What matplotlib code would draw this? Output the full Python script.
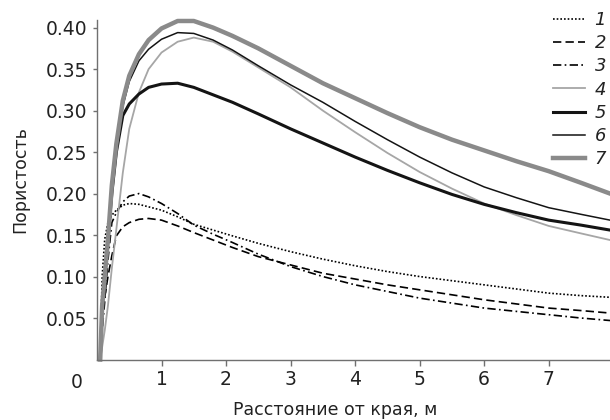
import matplotlib
matplotlib.use("Agg")
import matplotlib.pyplot as plt

plt.rcParams['font.family'] = ['DejaVu Sans']

# distance from edge, m
x = [0.05, 0.08, 0.12, 0.17, 0.23, 0.3, 0.4, 0.5, 0.65, 0.8, 1.0, 1.25, 1.5,
     1.8, 2.1, 2.5, 3.0, 3.5, 4.0, 4.5, 5.0, 5.5, 6.0, 6.5, 7.0, 7.5, 7.95]

por1 = [0.0, 0.10, 0.145, 0.165, 0.174, 0.180, 0.186, 0.188, 0.187, 0.184, 0.180, 0.172, 0.163,
        0.156, 0.149, 0.140, 0.130, 0.121, 0.113, 0.106, 0.100, 0.095, 0.090, 0.085, 0.080, 0.077, 0.075]
por2 = [0.0, 0.05, 0.075, 0.10, 0.125, 0.149, 0.160, 0.165, 0.169, 0.170, 0.168, 0.161, 0.153,
        0.144, 0.135, 0.124, 0.114, 0.104, 0.097, 0.090, 0.084, 0.078, 0.072, 0.067, 0.062, 0.059, 0.056]
por3 = [0.0, 0.035, 0.07, 0.12, 0.165, 0.177, 0.190, 0.197, 0.200, 0.196, 0.188, 0.176, 0.162,
        0.151, 0.141, 0.127, 0.112, 0.100, 0.090, 0.082, 0.074, 0.068, 0.062, 0.058, 0.054, 0.050, 0.047]
por4 = [0.0, 0.015, 0.035, 0.065, 0.11, 0.157, 0.225, 0.278, 0.322, 0.350, 0.370, 0.383, 0.388,
        0.383, 0.371, 0.352, 0.328, 0.300, 0.274, 0.249, 0.226, 0.206, 0.188, 0.174, 0.161, 0.152, 0.144]
por5 = [0.0, 0.06, 0.10, 0.145, 0.20, 0.25, 0.294, 0.308, 0.320, 0.328, 0.332, 0.333, 0.328,
        0.319, 0.310, 0.296, 0.278, 0.261, 0.244, 0.228, 0.213, 0.199, 0.187, 0.177, 0.168, 0.162, 0.156]
por6 = [0.0, 0.06, 0.10, 0.145, 0.205, 0.255, 0.305, 0.335, 0.360, 0.374, 0.386, 0.394, 0.393,
        0.385, 0.373, 0.354, 0.331, 0.310, 0.287, 0.265, 0.244, 0.225, 0.208, 0.195, 0.183, 0.175, 0.168]
por7 = [0.0, 0.065, 0.10, 0.145, 0.21, 0.26, 0.312, 0.342, 0.368, 0.385, 0.399, 0.408, 0.408,
        0.400, 0.390, 0.375, 0.354, 0.333, 0.315, 0.297, 0.280, 0.265, 0.252, 0.239, 0.227, 0.213, 0.200]

labels = ['1', '2', '3', '4', '5', '6', '7']

fig = plt.figure(figsize=(6.1, 4.2), dpi=100)
ax = fig.add_axes([0.159, 0.144, 0.841, 0.808])

ax.plot(x, por1, color='black', lw=1.2, ls=(0, (1, 1.2)), label=labels[0])
ax.plot(x, por2, color='black', lw=1.2, ls=(0, (5, 2.5)), label=labels[1])
ax.plot(x, por3, color='black', lw=1.2, ls=(0, (5, 2, 1, 2)), label=labels[2])
ax.plot(x, por4, color='#a6a6a6', lw=1.3, label=labels[3])
ax.plot(x, por5, color='#141414', lw=2.2, label=labels[4])
ax.plot(x, por6, color='#141414', lw=1.1, label=labels[5])
ax.plot(x, por7, color='#8a8a8a', lw=3.2, label=labels[6])

for ln in ax.lines:
    ln.set_clip_on(False)

ax.set_xlim(0, 7.95)
ax.set_ylim(0, 0.409)
ax.set_xticks([1, 2, 3, 4, 5, 6, 7])
ax.set_yticks([0.05, 0.10, 0.15, 0.20, 0.25, 0.30, 0.35, 0.40])
ax.set_yticklabels(['%.2f' % v for v in ax.get_yticks()])

for s in ['top', 'right']:
    ax.spines[s].set_visible(False)
for s in ['left', 'bottom']:
    ax.spines[s].set_color('#707070')
    ax.spines[s].set_linewidth(1.0)
ax.tick_params(width=1, color='#707070', labelsize=13.5, labelcolor='#222222')
ax.tick_params(axis='y', length=3, pad=4)
ax.tick_params(axis='x', length=4.3, pad=3)

ax.text(-0.039, -0.068, '0', transform=ax.transAxes, fontsize=13.5,
        color='#222222', ha='center', va='center')

ax.set_ylabel('Пористость', fontsize=12.5, color='#222222', va='center')
ax.yaxis.set_label_coords(-0.150, 0.53)
ax.set_xlabel('Расстояние от края, м', fontsize=12.5, color='#222222', va='center')
ax.xaxis.set_label_coords(0.464, -0.149)

leg = ax.legend(loc='upper right', bbox_to_anchor=(606 / 610, 1 - 11 / 420),
                bbox_transform=fig.transFigure, frameon=False,
                handlelength=1.75, handletextpad=0.55, labelspacing=0.29,
                borderpad=0, borderaxespad=0,
                prop={'style': 'italic', 'size': 13})
for t in leg.get_texts():
    t.set_color('#222222')

fig.savefig('out.png', dpi=100)
